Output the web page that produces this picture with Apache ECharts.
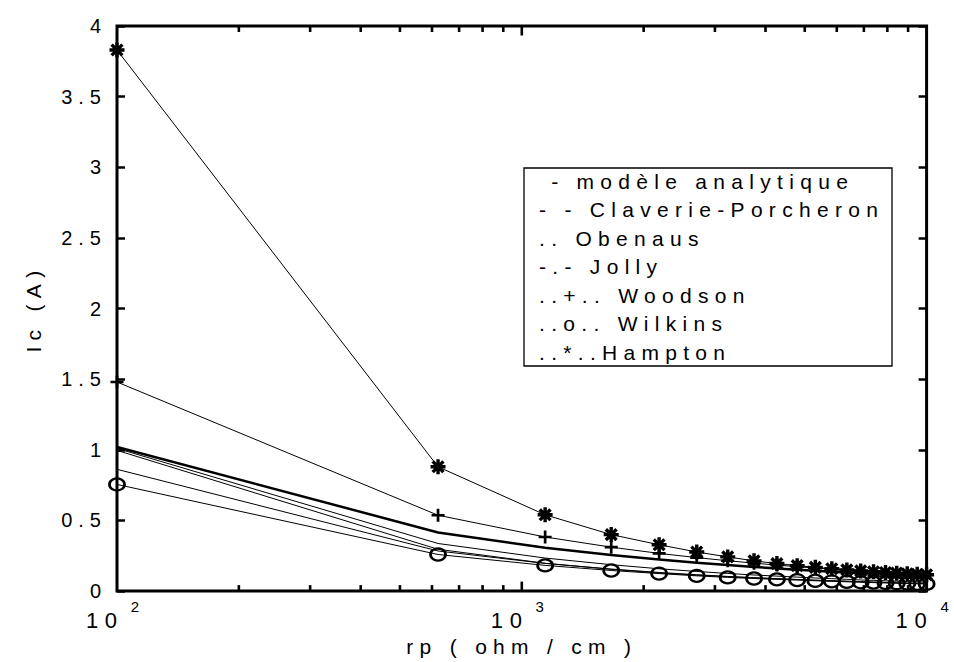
<!DOCTYPE html>
<html>
<head>
<meta charset="utf-8">
<script src="https://cdn.jsdelivr.net/npm/echarts@6/dist/echarts.min.js"></script>
<style>
  html, body { margin: 0; padding: 0; background: #fff; }
  #chart { width: 954px; height: 662px; }
  #chart text { letter-spacing: 0.3em; }
</style>
</head>
<body>
<div id="chart"></div>
<script>
// ---- data ----
const rp = [100, 621, 1142, 1663, 2184, 2705, 3226, 3747, 4268, 4789, 5311, 5832, 6353, 6874, 7395, 7916, 8437, 8958, 9479, 10000];

const modele    = [1.02, 0.415, 0.307, 0.255, 0.223, 0.201, 0.184, 0.171, 0.160, 0.151, 0.144, 0.137, 0.132, 0.127, 0.122, 0.118, 0.115, 0.111, 0.108, 0.105];
const claverie  = [1.01, 0.337, 0.234, 0.187, 0.158, 0.139, 0.125, 0.114, 0.106, 0.099, 0.093, 0.088, 0.083, 0.079, 0.076, 0.073, 0.070, 0.068, 0.065, 0.063];
const obenaus   = [0.862, 0.284, 0.196, 0.156, 0.132, 0.116, 0.104, 0.095, 0.088, 0.082, 0.077, 0.073, 0.069, 0.066, 0.063, 0.060, 0.058, 0.056, 0.054, 0.052];
const jolly     = [0.996, 0.296, 0.197, 0.154, 0.128, 0.113, 0.102, 0.094, 0.087, 0.082, 0.077, 0.073, 0.070, 0.067, 0.064, 0.062, 0.059, 0.057, 0.056, 0.054];
const woodson   = [1.48, 0.537, 0.383, 0.311, 0.267, 0.237, 0.215, 0.198, 0.184, 0.173, 0.163, 0.155, 0.148, 0.141, 0.136, 0.131, 0.126, 0.122, 0.118, 0.115];
const wilkins   = [0.755, 0.259, 0.182, 0.146, 0.124, 0.108, 0.097, 0.089, 0.083, 0.078, 0.073, 0.069, 0.066, 0.063, 0.060, 0.058, 0.056, 0.054, 0.052, 0.051];
const hampton   = [3.83, 0.880, 0.540, 0.400, 0.328, 0.277, 0.242, 0.214, 0.195, 0.180, 0.168, 0.158, 0.150, 0.143, 0.137, 0.132, 0.127, 0.123, 0.119, 0.116];

const seriesNames = ['modèle analytique', 'Claverie-Porcheron', 'Obenaus', 'Jolly', 'Woodson', 'Wilkins', 'Hampton'];
const legendLines = ['\u00A0- modèle analytique', '- - Claverie-Porcheron', '.. Obenaus', '-.- Jolly', '..+.. Woodson', '..o.. Wilkins', '..*..Hampton'];

const yTickLabels = ['0', '0.5', '1', '1.5', '2', '2.5', '3', '3.5', '4'];
const xTickExponents = ['2', '3', '4'];
const xMajorTicks = [1000];
const xMinorTicks = [200, 300, 400, 500, 600, 700, 800, 900, 2000, 3000, 4000, 5000, 6000, 7000, 8000, 9000];
const yRange = [0, 4];

const xTitle = 'rp ( ohm / cm )';
const yTitle = 'Ic (A)';

// ---- chart ----
const FONT = '"Liberation Sans", Arial, Helvetica, sans-serif';
const chart = echarts.init(document.getElementById('chart'), null, { renderer: 'svg' });

function pairs(vals) { return rp.map((x, i) => [x, vals[i]]); }

const PLUS = 'path://M0,7L14,7M7,0L7,14';
const STAR = 'path://M0,7L14,7M7,0L7,14M2,2L12,12M2,12L12,2';

function lineSeries(name, vals, width, symbol, size, bw) {
  const s = {
    name: name,
    type: 'line',
    data: pairs(vals),
    smooth: false,
    silent: true,
    clip: false,
    lineStyle: { color: '#000', width: width },
    itemStyle: { color: '#000' },
    emphasis: { disabled: true },
    z: 3
  };
  if (symbol) {
    s.symbol = symbol;
    s.symbolSize = size;
    s.showSymbol = true;
    s.itemStyle = {
      color: symbol === 'circle' ? 'rgba(0,0,0,0)' : '#000',
      borderColor: '#000',
      borderWidth: bw
    };
  } else {
    s.showSymbol = false;
    s.symbol = 'none';
  }
  return s;
}

// inward x tick marks on bottom and top edges, placed through the log x scale
function tickSeries(values, len) {
  return {
    type: 'custom',
    data: values.map(v => [v, yRange[1]]),
    renderItem: function (params, api) {
      const v = api.value(0);
      const b = api.coord([v, yRange[0]]);
      const t = api.coord([v, yRange[1]]);
      return {
        type: 'group',
        children: [
          { type: 'rect', shape: { x: b[0] - 1.3, y: b[1] - len, width: 2.6, height: len }, style: { fill: '#000' } },
          { type: 'rect', shape: { x: t[0] - 1.3, y: t[1], width: 2.6, height: len }, style: { fill: '#000' } }
        ]
      };
    }
  };
}

const legendGraphics = [{
  type: 'rect',
  shape: { x: 524, y: 168, width: 368, height: 198 },
  style: { fill: '#fff', stroke: '#000', lineWidth: 1.3 },
  z: 10
}].concat(legendLines.map((t, i) => ({
  type: 'text',
  x: 539,
  y: 181 + i * 28.5,
  style: { text: t, font: '21px ' + FONT, fill: '#000', verticalAlign: 'middle', align: 'left' },
  z: 11
})));

const option = {
  animation: false,
  backgroundColor: '#fff',
  textStyle: { fontFamily: FONT, color: '#000' },
  grid: {
    left: 117, right: 22, top: 26, bottom: 70,
    show: true, borderColor: '#000', borderWidth: 3,
    containLabel: false
  },
  xAxis: [{
    type: 'log', min: 100, max: 10000, position: 'bottom',
    axisLine: { show: false },
    axisTick: { show: false },
    splitLine: { show: false },
    axisLabel: {
      margin: 8,
      color: '#000',
      formatter: function (v) {
        const e = Math.round(Math.log10(v));
        return '{b|10}{s|' + xTickExponents[e - 2] + '}';
      },
      rich: {
        b: { fontSize: 22, fontFamily: FONT, color: '#000', lineHeight: 32, verticalAlign: 'bottom', padding: [0, 16, 0, 0] },
        s: { fontSize: 15, fontFamily: FONT, color: '#000', verticalAlign: 'top' }
      }
    },
    name: xTitle, nameLocation: 'middle', nameGap: 42,
    nameTextStyle: { fontSize: 21, fontFamily: FONT, color: '#000' }
  }],
  yAxis: [{
    type: 'value', min: yRange[0], max: yRange[1], interval: 0.5, position: 'left',
    axisLine: { show: false },
    axisTick: { show: true, inside: true, length: 8, lineStyle: { color: '#000', width: 2.5 } },
    splitLine: { show: false },
    axisLabel: {
      margin: 10, fontSize: 20, fontFamily: FONT, color: '#000',
      formatter: function (v) { return yTickLabels[Math.round(v / 0.5)]; }
    },
    name: yTitle, nameLocation: 'middle', nameGap: 73, nameRotate: 90,
    nameTextStyle: { fontSize: 21, fontFamily: FONT, color: '#000' }
  }, {
    type: 'value', min: yRange[0], max: yRange[1], interval: 0.5, position: 'right',
    axisLine: { show: false },
    axisTick: { show: true, inside: true, length: 8, lineStyle: { color: '#000', width: 2.5 } },
    splitLine: { show: false },
    axisLabel: { show: false }
  }],
  series: [
    lineSeries(seriesNames[0], modele, 2.5),
    lineSeries(seriesNames[1], claverie, 1),
    lineSeries(seriesNames[2], obenaus, 1),
    lineSeries(seriesNames[3], jolly, 1),
    lineSeries(seriesNames[4], woodson, 1, PLUS, 13, 2.7),
    lineSeries(seriesNames[5], wilkins, 1, 'circle', [15, 12], 2.5),
    lineSeries(seriesNames[6], hampton, 1, STAR, 15, 3.4),
    tickSeries(xMinorTicks, 6),
    tickSeries(xMajorTicks, 9.5)
  ],
  graphic: legendGraphics
};

chart.setOption(option);
</script>
</body>
</html>
